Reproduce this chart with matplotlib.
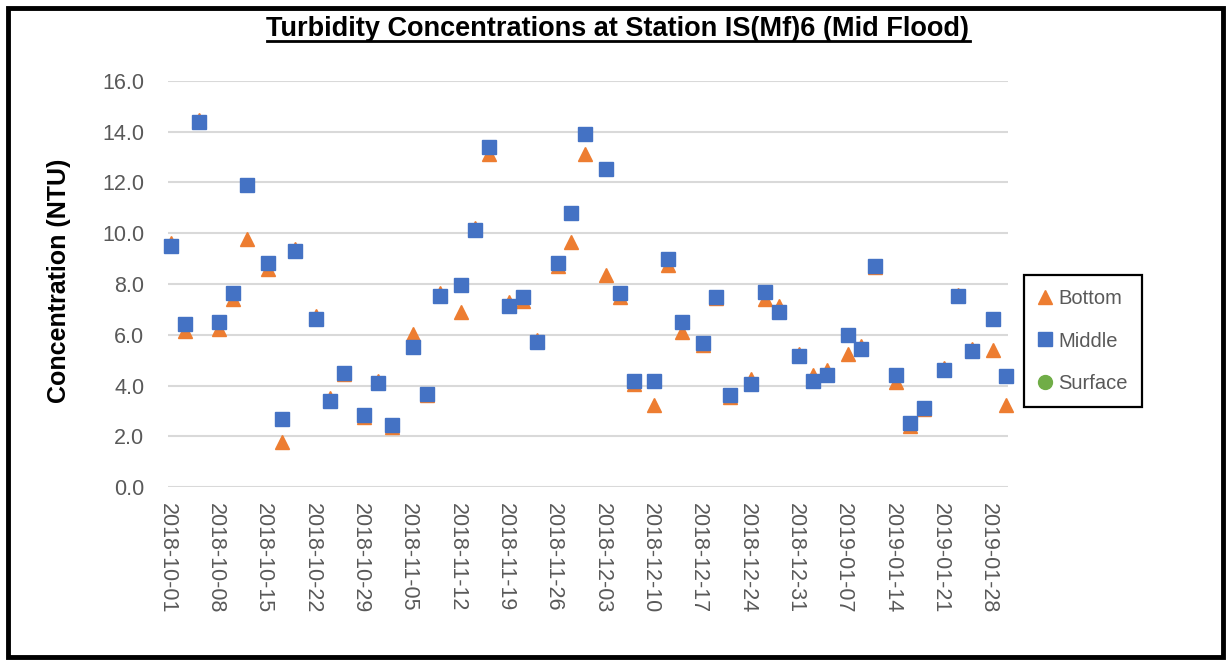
import matplotlib
matplotlib.use("Agg")
import matplotlib.pyplot as plt
import matplotlib.dates as mdates
import matplotlib.transforms as mtransforms
from matplotlib.lines import Line2D
from matplotlib.patches import Rectangle
import pandas as pd

# sampling dates (Mon / Wed / Fri)
dates = [
    "2018-10-01", "2018-10-03", "2018-10-05", "2018-10-08", "2018-10-10", "2018-10-12",
    "2018-10-15", "2018-10-17", "2018-10-19", "2018-10-22", "2018-10-24", "2018-10-26",
    "2018-10-29", "2018-10-31", "2018-11-02", "2018-11-05", "2018-11-07", "2018-11-09",
    "2018-11-12", "2018-11-14", "2018-11-16", "2018-11-19", "2018-11-21", "2018-11-23",
    "2018-11-26", "2018-11-28", "2018-11-30", "2018-12-03", "2018-12-05", "2018-12-07",
    "2018-12-10", "2018-12-12", "2018-12-14", "2018-12-17", "2018-12-19", "2018-12-21",
    "2018-12-24", "2018-12-26", "2018-12-28", "2018-12-31", "2019-01-02", "2019-01-04",
    "2019-01-07", "2019-01-09", "2019-01-11", "2019-01-14", "2019-01-16", "2019-01-18",
    "2019-01-21", "2019-01-23", "2019-01-25", "2019-01-28", "2019-01-30",
]
bottom = [
    9.62, 6.14, 14.47, 6.22, 7.40, 9.79, 8.60, 1.78, 9.38, 6.75, 3.50, 4.45,
    2.78, 4.18, 2.38, 6.05, 3.62, 7.65, 6.88, 10.20, 13.10, 7.30, 7.35, 5.80,
    8.72, 9.65, 13.10, 8.35, 7.50, 4.05, 3.25, 8.75, 6.13, 5.60, 7.45, 3.55,
    4.25, 7.40, 7.12, 5.25, 4.40, 4.60, 5.25, 5.55, 8.65, 4.15, 2.42, 3.08,
    4.68, 7.58, 5.45, 5.40, 3.25,
]
middle = [
    9.50, 6.44, 14.39, 6.51, 7.65, 11.90, 8.82, 2.69, 9.30, 6.64, 3.41, 4.50,
    2.85, 4.09, 2.45, 5.51, 3.67, 7.51, 7.95, 10.13, 13.40, 7.15, 7.49, 5.73,
    8.83, 10.80, 13.91, 12.51, 7.65, 4.18, 4.20, 8.99, 6.51, 5.68, 7.49, 3.62,
    4.08, 7.68, 6.90, 5.16, 4.20, 4.43, 6.01, 5.46, 8.69, 4.43, 2.53, 3.13,
    4.63, 7.54, 5.38, 6.64, 4.39,
]
surface = []          # no surface readings shown
surface_dates = []

tick_dates = pd.date_range("2018-10-01", "2019-01-28", freq="7D")
yticks = [0, 2, 4, 6, 8, 10, 12, 14, 16]

ORANGE, BLUE, GREEN = "#ED7D31", "#4472C4", "#70AD47"
GREY_TXT = "#595959"
plt.rcParams["font.family"] = ["Liberation Sans", "DejaVu Sans"]

W, H = 1227, 660
fig = plt.figure(figsize=(W / 100, H / 100), dpi=100)
ax = fig.add_axes([168 / W, 1 - 487.3 / H, 840 / W, 406.6 / H])

x = pd.to_datetime(dates)
ax.plot(x, bottom, ls="none", marker="^", ms=10.5, color=ORANGE, mec=ORANGE,
        label="Bottom", zorder=3, clip_on=False)
ax.plot(x, middle, ls="none", marker="s", ms=10.2, color=BLUE, mec=BLUE,
        label="Middle", zorder=4, clip_on=False)
ax.plot(pd.to_datetime(surface_dates), surface, ls="none", marker="o", ms=10,
        color=GREEN, mec=GREEN, label="Surface", zorder=5, clip_on=False)

x0 = pd.Timestamp("2018-10-01") - pd.Timedelta(hours=11)
ax.set_xlim(x0, x0 + pd.Timedelta(days=121.7))
ax.set_ylim(0, 16)
ax.set_yticks(yticks)
ax.set_yticklabels([f"{v:.1f}" for v in yticks])
ax.set_xticks(tick_dates)
ax.xaxis.set_major_formatter(mdates.DateFormatter("%Y-%m-%d"))
ax.tick_params(axis="x", length=0, pad=11, labelsize=15.5, labelcolor=GREY_TXT,
               labelrotation=-90)
ax.tick_params(axis="y", length=0, pad=17, labelsize=15.5, labelcolor=GREY_TXT)
shift = mtransforms.ScaledTranslation(-4 / 100, 0, fig.dpi_scale_trans)
for lbl in ax.get_xticklabels():
    lbl.set_ha("center")
    lbl.set_va("top")
    lbl.set_transform(lbl.get_transform() + shift)

ax.grid(axis="y", color="#D9D9D9", lw=1.5)
ax.set_axisbelow(True)
for s in ax.spines.values():
    s.set_visible(False)

fig.text(59 / W, 1 - 281 / H, "Concentration (NTU)", rotation=90, ha="center",
         va="center", fontsize=18, fontweight="bold", color="black")

title = fig.text(618 / W, 1 - 36 / H, "Turbidity Concentrations at Station IS(Mf)6 (Mid Flood)",
                 ha="center", va="baseline", fontsize=19.5, fontweight="bold")

leg = fig.legend(loc="center left", bbox_to_anchor=(1024 / W, 1 - 341 / H),
                 fontsize=14.5, frameon=True, fancybox=False, framealpha=1,
                 edgecolor="black", labelspacing=1.15, handlelength=0.7,
                 handletextpad=0.3, borderpad=0.7, borderaxespad=0)
leg.get_frame().set_linewidth(1.6)
for t in leg.get_texts():
    t.set_color(GREY_TXT)

# underline the title
fig.canvas.draw()
bb = title.get_window_extent().transformed(fig.transFigure.inverted())
fig.add_artist(Line2D([bb.x0, bb.x1], [1 - 41 / H] * 2, color="black", lw=2,
                      transform=fig.transFigure))

# outer chart border
fig.add_artist(Rectangle((7.5 / W, 3 / H), 1 - 12 / W, 1 - 10.5 / H,
                         transform=fig.transFigure, fill=False, ec="black", lw=3.5))

fig.savefig("out.png", dpi=100)
